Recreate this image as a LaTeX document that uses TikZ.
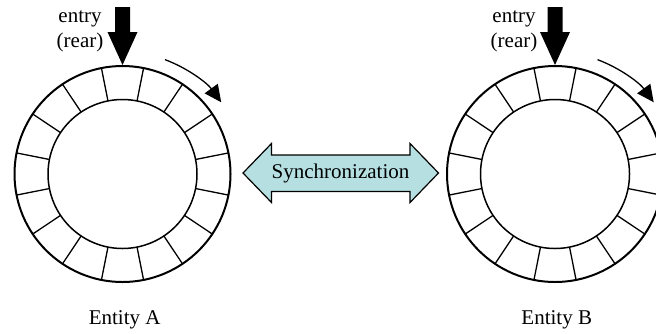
\documentclass[tikz,border=0pt]{standalone}
\usepackage{fontspec}
\setmainfont{Liberation Serif}
\usetikzlibrary{arrows.meta}
\definecolor{syncfill}{RGB}{182,223,226}
\tikzset{
  ringouter/.style={circle, draw, line width=1pt, minimum size=108pt, inner sep=0pt},
  ringinner/.style={circle, draw, line width=0.75pt, minimum size=74.5pt, inner sep=0pt},
  segline/.style={line width=0.65pt},
  entryarrow/.style={fill=black, draw=none},
  turnarrow/.style={line width=0.65pt, -{Triangle[length=8.5pt,width=8pt]}},
  lbl/.style={font=\fontsize{10.5}{12.5}\selectfont, inner sep=0pt, align=center},
  syncarrow/.style={fill=syncfill, draw=black, line width=0.6pt, line join=miter}
}
\begin{document}
\begin{tikzpicture}[x=0.5pt, y=-0.5pt]
\useasboundingbox (0,0) rectangle (656,333);

% rings
\foreach \nm/\cx in {A/122.5, B/555} {
  \node[ringouter] (outer\nm) at (\cx,174) {};
  \node[ringinner] (inner\nm) at (\cx,174) {};
  \begin{scope}[shift={(\cx,174)}]
    \foreach \a in {11.25,33.75,...,360} {
      \draw[segline] (\a:37.25pt) -- (\a:54pt);
    }
    \draw[turnarrow] (69.6:61pt) arc[start angle=69.6, end angle=36, radius=61pt];
  \end{scope}
  % entry arrow
  \coordinate (tip\nm) at (outer\nm.north);
  \fill[entryarrow] (tip\nm) -- ++(-15,-33) -- ++(7.5,0) -- ++(0,-25) -- ++(15,0) -- ++(0,25) -- ++(7.5,0) -- cycle;
}

\node[lbl] (entryA) at (80,31) {entry\\(rear)};
\node[lbl] (entryB) at (514,31) {entry\\(rear)};

\node[lbl, anchor=base] (entA) at (124.7,324) {Entity A};
\node[lbl, anchor=base] (entB) at (556.7,324) {Entity B};

% synchronization arrow
\draw[syncarrow] (243,173) -- (271.5,143.5) -- (271.5,155) -- (410,155) -- (410,143.5)
  -- (438.5,173) -- (410,202.5) -- (410,191.5) -- (271.5,191.5) -- (271.5,202.5) -- cycle;
\node[lbl] (sync) at (340.5,173.5) {Synchronization};
\end{tikzpicture}
\end{document}
